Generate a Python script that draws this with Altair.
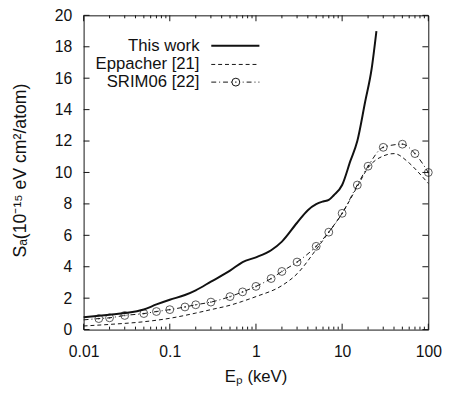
import altair as alt
import pandas as pd

# ---------------- data ----------------
E_TICKS = [0.01, 0.1, 1, 10, 100]
Y_TICKS = list(range(0, 21, 2))

work_E = [0.01, 0.02, 0.03, 0.05, 0.07, 0.1, 0.15, 0.2, 0.3, 0.5, 0.7, 1.0,
          1.5, 2.0, 3.0, 4.0, 5.0, 6.0, 7.0, 8.0, 10, 12.5, 15, 18.5, 22, 25]
work_S = [0.78, 0.95, 1.05, 1.28, 1.6, 1.9, 2.2, 2.5, 3.05, 3.75, 4.3, 4.6,
          5.05, 5.6, 6.8, 7.6, 7.98, 8.15, 8.25, 8.55, 9.2, 10.75, 12.0, 14.5, 16.6, 19.0]

epp_E = [0.01, 0.02, 0.05, 0.1, 0.2, 0.3, 0.5, 0.7, 1.0, 2.0, 3.0, 5.0, 7.0,
         10, 15, 20, 30, 40, 60, 80, 100]
epp_S = [0.23, 0.33, 0.5, 0.72, 1.05, 1.27, 1.55, 1.8, 2.1, 2.8, 3.55, 5.1, 6.2,
         7.4, 9.1, 10.3, 11.05, 11.2, 10.6, 9.9, 9.3]

srim_E = [0.015, 0.02, 0.03, 0.05, 0.07, 0.1, 0.15, 0.2, 0.3, 0.5, 0.7, 1.0,
          1.5, 2.0, 3.0, 5.0, 7.0, 10, 15, 20, 30, 50, 70, 100]
srim_S = [0.7, 0.75, 0.9, 1.02, 1.15, 1.27, 1.44, 1.58, 1.75, 2.1, 2.4, 2.75,
          3.25, 3.7, 4.3, 5.3, 6.2, 7.4, 9.2, 10.4, 11.6, 11.8, 11.2, 10.0]
srim_line_start = [0.01, 0.62]  # where the SRIM line begins (no marker)

legend_labels = ["This work", "Eppacher [21]", "SRIM06 [22]"]
x_title = "Eₚ (keV)"
y_title = "Sₐ(10⁻¹⁵ eV cm²/atom)"

# ---------------- layout / style ----------------
W, H = 351, 320
FONT = "Liberation Sans"
INK = "#111111"

xs = alt.Scale(type="log", domain=[0.01, 100], nice=False)
ys = alt.Scale(domain=[0, 20], nice=False, zero=True)

work = pd.DataFrame({"E": work_E, "S": work_S})
epp = pd.DataFrame({"E": epp_E, "S": epp_S})
srim_pts = pd.DataFrame({"E": srim_E, "S": srim_S})
srim_line = pd.DataFrame({"E": [srim_line_start[0]] + srim_E,
                          "S": [srim_line_start[1]] + srim_S})
one = pd.DataFrame({"k": [0]})

xaxis = alt.Axis(values=E_TICKS, format=".2~f", title=None, ticks=False, domain=False,
                 grid=False, labelFont=FONT, labelFontSize=16, labelColor=INK,
                 labelPadding=14, labelFlush=False, labelOverlap=False)
yaxis = alt.Axis(values=Y_TICKS, format="d", title=None, ticks=False, domain=False,
                 grid=False, labelFont=FONT, labelFontSize=16, labelColor=INK,
                 labelPadding=12, labelOverlap=False)


def X(field="E:Q"):
    return alt.X(field, scale=xs, axis=xaxis)


def Y(field="S:Q"):
    return alt.Y(field, scale=ys, axis=yaxis)


line_work = alt.Chart(work).mark_line(color=INK, strokeWidth=2, interpolate="monotone").encode(
    x=X(), y=Y())
line_epp = alt.Chart(epp).mark_line(color=INK, strokeWidth=1, strokeDash=[4, 3],
                                    interpolate="monotone").encode(x=X(), y=Y())
line_srim = alt.Chart(srim_line).mark_line(color=INK, strokeWidth=1, strokeDash=[5, 3, 1, 3],
                                           interpolate="monotone").encode(x=X(), y=Y())
pts_srim = alt.Chart(srim_pts).mark_point(shape="circle", size=64, filled=False, color=INK,
                                          strokeWidth=1).encode(x=X(), y=Y())
dots_srim = alt.Chart(srim_pts).mark_point(shape="circle", size=3, filled=True,
                                           color=INK).encode(x=X(), y=Y())

# inward ticks on all four sides
minor = [m * d for d in [0.01, 0.1, 1, 10] for m in range(2, 10)]
xmaj = pd.DataFrame({"E": E_TICKS})
xmin = pd.DataFrame({"E": minor})
yt = pd.DataFrame({"S": Y_TICKS})


def xtick(df, y0, y1):
    return alt.Chart(df).mark_rule(color=INK, strokeWidth=1).encode(
        x=X(), y=alt.value(y0), y2=alt.value(y1))


def ytick(x0, x1):
    return alt.Chart(yt).mark_rule(color=INK, strokeWidth=1).encode(
        y=Y(), x=alt.value(x0), x2=alt.value(x1))


ticks = [xtick(xmaj, H, H - 6), xtick(xmin, H, H - 3), xtick(xmaj, 0, 6), xtick(xmin, 0, 3),
         ytick(0, 6), ytick(W, W - 6)]

# titles
xt = alt.Chart(one).mark_text(text=x_title, font=FONT, fontSize=17, color=INK,
                              align="center", baseline="alphabetic").encode(
    x=alt.value(W / 2), y=alt.value(H + 53))
ytl = alt.Chart(one).mark_text(text=y_title, font=FONT, fontSize=18, color=INK, angle=270,
                               align="center", baseline="middle").encode(
    x=alt.value(-64), y=alt.value(H / 2 - 2))

# legend
LY = [31, 50, 68]
leg = []
for lab, yy in zip(legend_labels, LY):
    leg.append(alt.Chart(one).mark_text(text=lab, font=FONT, fontSize=17, color=INK,
                                        align="right", baseline="middle").encode(
        x=alt.value(118), y=alt.value(yy)))
leg.append(alt.Chart(one).mark_rule(color=INK, strokeWidth=2).encode(
    x=alt.value(130), x2=alt.value(179), y=alt.value(LY[0])))
leg.append(alt.Chart(one).mark_rule(color=INK, strokeWidth=1, strokeDash=[4, 3]).encode(
    x=alt.value(130), x2=alt.value(179), y=alt.value(LY[1])))
leg.append(alt.Chart(one).mark_rule(color=INK, strokeWidth=1, strokeDash=[5, 3, 1, 3]).encode(
    x=alt.value(130), x2=alt.value(179), y=alt.value(LY[2])))
leg.append(alt.Chart(one).mark_point(shape="circle", size=64, filled=False, color=INK,
                                     strokeWidth=1, fill="white", fillOpacity=1).encode(
    x=alt.value(155), y=alt.value(LY[2])))
leg.append(alt.Chart(one).mark_point(shape="circle", size=3, filled=True, color=INK).encode(
    x=alt.value(155), y=alt.value(LY[2])))

chart = alt.layer(line_work, line_epp, line_srim, pts_srim, dots_srim, *ticks, xt, ytl, *leg).properties(
    width=W, height=H,
    autosize=alt.AutoSizeParams(type="none"),
    padding={"left": 77, "top": 4, "right": 17, "bottom": 56},
    background="white",
).configure_view(stroke=INK, strokeWidth=1)

chart.save("out.html", embed_options={"renderer": "svg", "actions": False})
